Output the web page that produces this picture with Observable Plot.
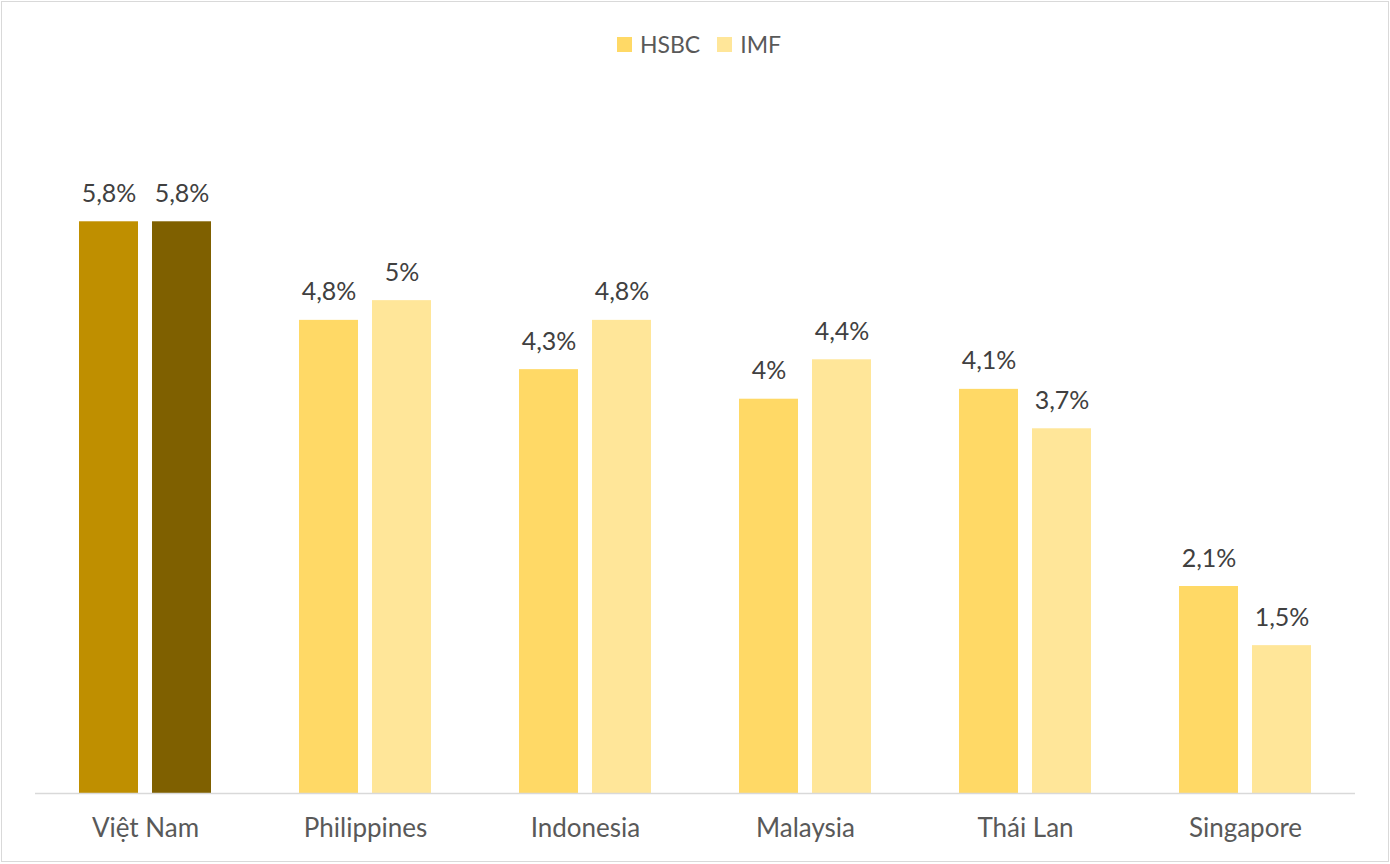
<!DOCTYPE html>
<html>
<head>
<meta charset="utf-8">
<script src="https://cdn.jsdelivr.net/npm/d3@7"></script>
<script src="https://cdn.jsdelivr.net/npm/@observablehq/plot@0.6"></script>
<style>
  html, body { margin: 0; padding: 0; background: #fff; }
  #wrap { position: relative; width: 1390px; height: 864px; box-sizing: border-box; font-family: Lato, "Open Sans", sans-serif; }
  #border { position: absolute; left: 1px; top: 1px; width: 1386px; height: 859px; border: 1px solid #D9D9D9; pointer-events: none; }
  #legend { height: 80px; display: flex; justify-content: center; align-items: flex-start; padding-top: 29px; box-sizing: border-box; gap: 17px; color: #595959; font-size: 23px; line-height: 30px; padding-left: 8px; }
  .item { display: flex; align-items: center; gap: 8px; }
  .sw { width: 15px; height: 15px; display: inline-block; }
  #chart svg { display: block; }
</style>
</head>
<body>
<div id="wrap">
  <div id="border"></div>
  <div id="legend"></div>
  <div id="chart"></div>
</div>
<script>
const countries = ["Việt Nam", "Philippines", "Indonesia", "Malaysia", "Thái Lan", "Singapore"];
const series = ["HSBC", "IMF"];
const hsbc = [5.8, 4.8, 4.3, 4.0, 4.1, 2.1];
const imf = [5.8, 5.0, 4.8, 4.4, 3.7, 1.5];
const seriesColors = ["#FFD966", "#FFE699"];
const highlightColors = ["#BF8F00", "#7F6000"];

const data = [];
countries.forEach((c, i) => {
  data.push({country: c, series: "HSBC", value: hsbc[i]});
  data.push({country: c, series: "IMF", value: imf[i]});
});

const fillOf = d => d.country === "Việt Nam"
  ? highlightColors[series.indexOf(d.series)]
  : seriesColors[series.indexOf(d.series)];
const fmt = v => String(v).replace(".", ",") + "%";

// legend
const legend = document.getElementById("legend");
series.forEach((s, i) => {
  const it = document.createElement("div");
  it.className = "item";
  it.innerHTML = `<span class="sw" style="background:${seriesColors[i]}"></span><span>${s}</span>`;
  legend.appendChild(it);
});

const chart = Plot.plot({
  width: 1390,
  height: 784,
  marginLeft: 33,
  marginRight: 33,
  marginTop: 23,
  marginBottom: 71,
  style: { fontFamily: "Lato, 'Open Sans', sans-serif", fontSize: "26px", color: "#595959", background: "transparent" },
  fx: { domain: countries, padding: 0, label: null, axis: "bottom", tickSize: 0, tickPadding: 25 },
  x: { domain: series, paddingInner: 0.19, paddingOuter: 0.6, axis: null },
  y: { domain: [0, 7], axis: null },
  marks: [
    Plot.barY(data, { fx: "country", x: "series", y: "value", fill: fillOf }),
    Plot.ruleY([0], { stroke: "#D9D9D9", strokeWidth: 1.5 }),
    Plot.text(data, { fx: "country", x: "series", y: "value", text: d => fmt(d.value), dy: -28, fontSize: 25, fill: "#404040" })
  ]
});
document.getElementById("chart").appendChild(chart);
</script>
</body>
</html>
